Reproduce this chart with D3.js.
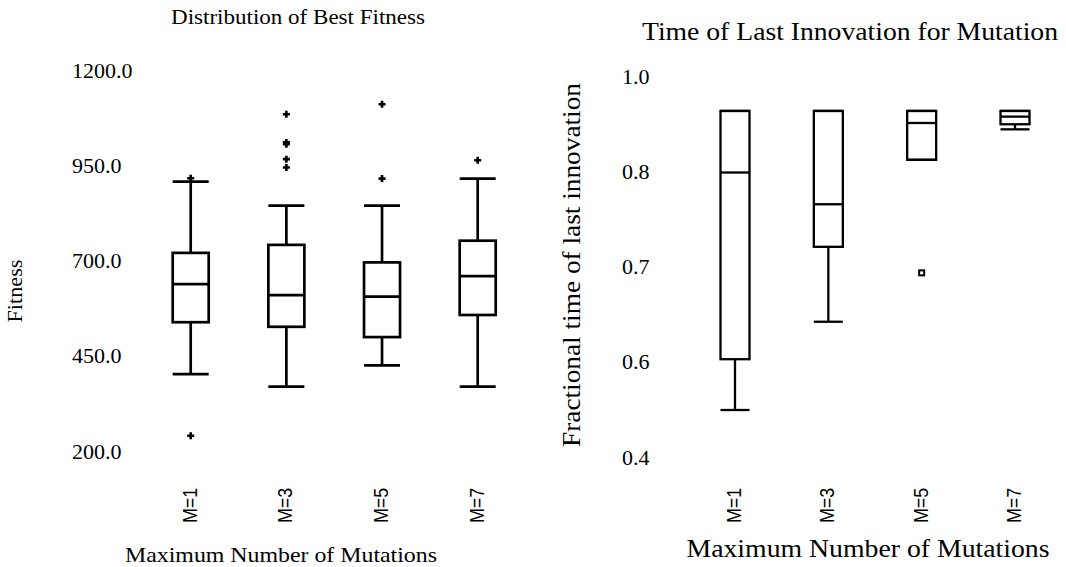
<!DOCTYPE html>
<html>
<head>
<meta charset="utf-8">
<script src="https://cdn.jsdelivr.net/npm/d3@7"></script>
<style>
  body { margin: 0; background: #fff; }
  svg { display: block; }
  text { font-family: "Liberation Serif", "DejaVu Serif", serif; fill: #000; }
  .xtick { font-family: "Liberation Sans", Arial, sans-serif; }
</style>
</head>
<body>
<div id="chart"></div>
<script>
const categories = ['M=1', 'M=3', 'M=5', 'M=7'];

// left panel: best fitness
const fitnessLow = [402, 369, 425, 369];
const fitnessQ1 = [538, 526, 499, 557];
const fitnessMedian = [638, 609, 605, 659];
const fitnessQ3 = [720, 741, 695, 752];
const fitnessHigh = [907, 844, 844, 915];
const fitnessOutliers = [[916, 240], [1084, 1010, 1005, 966, 944], [1110, 915], [963]];
const fitnessTicks = [200, 450, 700, 950, 1200];
const fitnessTickLabels = ['200.0', '450.0', '700.0', '950.0', '1200.0'];

// right panel: time of last innovation
const innovLow = [0.474, 0.613, 0.868, 0.916];
const innovQ1 = [0.554, 0.731, 0.868, 0.924];
const innovMedian = [0.848, 0.798, 0.926, 0.936];
const innovQ3 = [0.945, 0.945, 0.945, 0.945];
const innovHigh = [0.945, 0.945, 0.945, 0.945];
const innovOutliers = [[], [], [0.690], []];
const innovTicks = [0.4, 0.55, 0.7, 0.85, 1.0];
const innovTickLabels = ['0.4', '0.6', '0.7', '0.8', '1.0'];

const W = 1066, H = 567;
const svg = d3.select('#chart').append('svg').attr('width', W).attr('height', H);

function boxPanel(opt){
	const g = svg.append('g');
	const x = d3.scalePoint().domain(categories).range(opt.xRange);
	const y = d3.scaleLinear().domain(opt.domain).range(opt.yRange);
	const rows = categories.map((c,i)=>({
		c, lo:opt.low[i], q1:opt.q1[i], med:opt.med[i], q3:opt.q3[i], hi:opt.high[i], out:opt.out[i]
	}));
	const bw = opt.boxW;

	// y tick labels, left aligned, no axis line
	const ya = g.append('g').attr('transform',`translate(${opt.tickX},0)`)
		.call(d3.axisLeft(y).tickValues(opt.ticks)
			.tickFormat((d,i)=>opt.tickLabels[i]).tickSize(0).tickPadding(0));
	ya.select('.domain').remove();
	ya.selectAll('text')
		.attr('text-anchor','start')
		.attr('x',0)
		.style('font-family','"Liberation Serif", serif')
		.style('font-size','22px')
		.style('fill','#000');

	const box = g.selectAll('.box').data(rows).enter().append('g').attr('class','box')
		.style('stroke','#000').style('stroke-width',opt.sw).style('fill','none');
	// whiskers
	box.append('line')
		.attr('x1',d=>x(d.c)).attr('x2',d=>x(d.c))
		.attr('y1',d=>y(d.hi)).attr('y2',d=>y(d.q3));
	box.append('line')
		.attr('x1',d=>x(d.c)).attr('x2',d=>x(d.c))
		.attr('y1',d=>y(d.q1)).attr('y2',d=>y(d.lo));
	box.append('line')
		.attr('x1',d=>x(d.c)-bw/2).attr('x2',d=>x(d.c)+bw/2)
		.attr('y1',d=>y(d.hi)).attr('y2',d=>y(d.hi));
	box.append('line')
		.attr('x1',d=>x(d.c)-bw/2).attr('x2',d=>x(d.c)+bw/2)
		.attr('y1',d=>y(d.lo)).attr('y2',d=>y(d.lo));
	box.append('rect')
		.attr('x',d=>x(d.c)-bw/2).attr('width',bw)
		.attr('y',d=>y(d.q3)).attr('height',d=>y(d.q1)-y(d.q3));
	box.append('line')
		.attr('x1',d=>x(d.c)-bw/2).attr('x2',d=>x(d.c)+bw/2)
		.attr('y1',d=>y(d.med)).attr('y2',d=>y(d.med));

	// outliers
	const pts = rows.flatMap(d=>d.out.map(v=>({c:d.c, v})));
	if(opt.marker==='plus'){
		g.selectAll('.out').data(pts).enter().append('path').attr('class','out')
			.attr('d',d=>{
				const cx=x(d.c), cy=y(d.v), r=3.5;
				return `M${cx-r},${cy}H${cx+r}M${cx},${cy-r}V${cy+r}`;
			})
			.style('stroke','#000').style('stroke-width',2.6).style('fill','none');
	}else{
		g.selectAll('.out').data(pts).enter().append('rect').attr('class','out')
			.attr('x',d=>x(d.c)-2.5).attr('y',d=>y(d.v)-2.5)
			.attr('width',5).attr('height',5)
			.style('stroke','#000').style('stroke-width',2).style('fill','none');
	}

	// rotated category labels
	g.selectAll('.xtick').data(categories).enter().append('text').attr('class','xtick')
		.attr('transform',d=>`translate(${x(d)+6},523) rotate(-90) scale(1.05,1.2)`)
		.attr('text-anchor','start')
		.style('font-size','17px')
		.text(d=>d);

	function label(txt, cx, cy, size, len, rot){
		g.append('text')
			.attr('transform',`translate(${cx},${cy})`+(rot?' rotate(-90)':''))
			.attr('text-anchor','middle')
			.attr('dominant-baseline','central')
			.attr('textLength',len).attr('lengthAdjust','spacingAndGlyphs')
			.style('font-size',size+'px')
			.text(txt);
	}
	label(opt.title, opt.titlePos[0], opt.titlePos[1], opt.titleSize, opt.titleLen);
	label(opt.xTitle, opt.xTitlePos[0], opt.xTitlePos[1], opt.xTitleSize, opt.xTitleLen);
	label(opt.yTitle, opt.yTitlePos[0], opt.yTitlePos[1], opt.yTitleSize, opt.yTitleLen, true);
}

boxPanel({
	xRange:[190.7, 477.7], domain:[200,1200], yRange:[451,70],
	low:fitnessLow, q1:fitnessQ1, med:fitnessMedian, q3:fitnessQ3, high:fitnessHigh, out:fitnessOutliers,
	ticks:fitnessTicks, tickLabels:fitnessTickLabels, tickX:72,
	boxW:36, sw:2.7, marker:'plus',
	title:'Distribution of Best Fitness', titlePos:[298,17], titleSize:20, titleLen:254,
	xTitle:'Maximum Number of Mutations', xTitlePos:[281,555], xTitleSize:21, xTitleLen:312,
	yTitle:'Fitness', yTitlePos:[15,291], yTitleSize:21, yTitleLen:63
});

boxPanel({
	xRange:[735, 1015], domain:[0.4,1.0], yRange:[457,76],
	low:innovLow, q1:innovQ1, med:innovMedian, q3:innovQ3, high:innovHigh, out:innovOutliers,
	ticks:innovTicks, tickLabels:innovTickLabels, tickX:622,
	boxW:29, sw:2.3, marker:'square',
	title:'Time of Last Innovation for Mutation', titlePos:[850,31], titleSize:25, titleLen:416,
	xTitle:'Maximum Number of Mutations', xTitlePos:[868,548], xTitleSize:25, xTitleLen:363,
	yTitle:'Fractional time of last innovation', yTitlePos:[571,265], yTitleSize:25, yTitleLen:364
});
</script>
</body>
</html>
